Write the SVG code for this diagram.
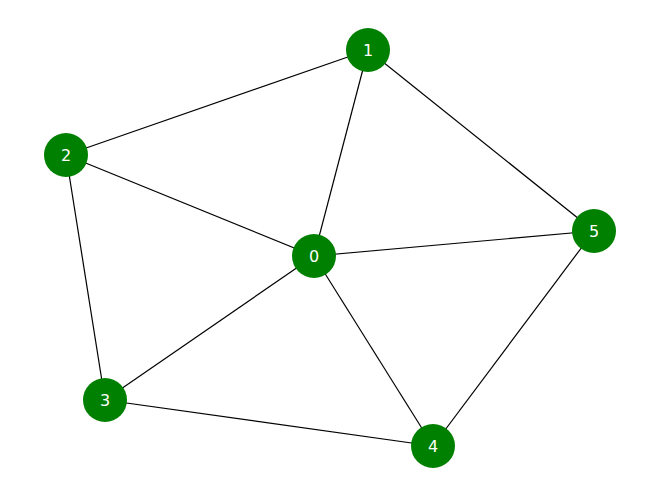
<svg xmlns="http://www.w3.org/2000/svg" width="660" height="499" viewBox="0 0 660 499">
<style>
.e{stroke:#000;stroke-width:1.2}
.n circle{fill:#008000}
.n text{fill:#fff;font-family:"DejaVu Sans",sans-serif;font-size:16px;text-anchor:middle;dominant-baseline:central}
</style>
<rect width="660" height="499" fill="#fff"/>
<g id="edges">
<line class="e" x1="368" y1="50" x2="66" y2="155"/>
<line class="e" x1="368" y1="50" x2="314" y2="256"/>
<line class="e" x1="368" y1="50" x2="594" y2="231"/>
<line class="e" x1="66" y1="155" x2="314" y2="256"/>
<line class="e" x1="66" y1="155" x2="105" y2="400"/>
<line class="e" x1="314" y1="256" x2="594" y2="231"/>
<line class="e" x1="314" y1="256" x2="105" y2="400"/>
<line class="e" x1="314" y1="256" x2="433" y2="446"/>
<line class="e" x1="105" y1="400" x2="433" y2="446"/>
<line class="e" x1="433" y1="446" x2="594" y2="231"/>
</g>
<g id="n0" class="n"><circle cx="314" cy="256" r="22"/><text x="314" y="256">0</text></g>
<g id="n1" class="n"><circle cx="368" cy="50" r="22"/><text x="368" y="50">1</text></g>
<g id="n2" class="n"><circle cx="66" cy="155" r="22"/><text x="66" y="155">2</text></g>
<g id="n3" class="n"><circle cx="105" cy="400" r="22"/><text x="105" y="400">3</text></g>
<g id="n4" class="n"><circle cx="433" cy="446" r="22"/><text x="433" y="446">4</text></g>
<g id="n5" class="n"><circle cx="594" cy="231" r="22"/><text x="594" y="231">5</text></g>
</svg>
